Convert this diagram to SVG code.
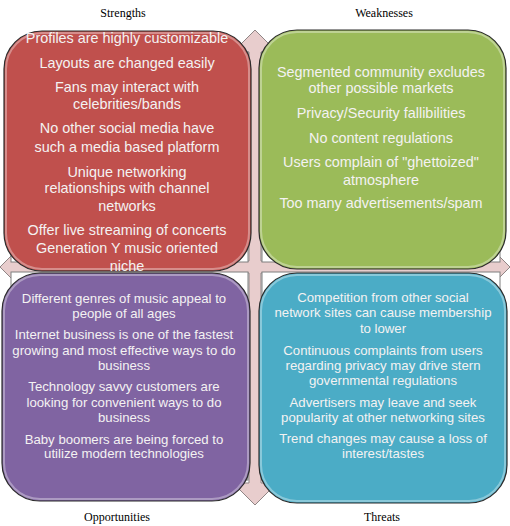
<svg xmlns="http://www.w3.org/2000/svg" width="510" height="526" viewBox="0 0 510 526">
<style>
.lbl{font-family:"Liberation Serif","Times New Roman",serif;font-size:12px;fill:#000;text-anchor:middle}
.t{font-family:"Liberation Sans",Arial,sans-serif;fill:#f4f2f2;text-anchor:middle}
.big{font-size:14.4px}
.sm{font-size:13.2px}
.back{fill:#fff;stroke:#7f7f7f;stroke-width:1}
.box{stroke:#2b2b2b;stroke-width:1.2}
.hl{fill:none;stroke:#fff;stroke-opacity:0.35;stroke-width:2}
</style>
<rect width="510" height="526" fill="#fff"/>
<g id="cross">
<polygon points="255,30 277,52 261,52 261,261 488,261 488,245 510,267 488,289 488,273 261,273 261,483 277,483 255,505 233,483 249,483 249,273 22,273 22,289 0,267 22,245 22,261 249,261 249,52 233,52" fill="#e8cdcd" stroke="#8f8585" stroke-width="1"/>
</g>
<g id="backs">
<rect class="back" x="11" y="52" width="237" height="210"/>
<rect class="back" x="262" y="52" width="238" height="210"/>
<rect class="back" x="11" y="272" width="237" height="208"/>
<rect class="back" x="262" y="272" width="238" height="208"/>
</g>
<g id="strengths">
<rect class="box" x="4" y="31" width="247" height="240" rx="38" fill="#c0504d"/>
<rect class="hl" x="6" y="33" width="243" height="236" rx="36"/>
<text class="t big" x="127" y="43">Profiles are highly customizable</text>
<text class="t big" x="127" y="68">Layouts are changed easily</text>
<text class="t big" x="127" y="92">Fans may interact with</text>
<text class="t big" x="127" y="109">celebrities/bands</text>
<text class="t big" x="127" y="133">No other  social media have</text>
<text class="t big" x="127" y="152">such a media based platform</text>
<text class="t big" x="127" y="177">Unique networking</text>
<text class="t big" x="127" y="193">relationships with channel</text>
<text class="t big" x="127" y="211">networks</text>
<text class="t big" x="127" y="235">Offer live streaming of concerts</text>
<text class="t big" x="127" y="253">Generation  Y music oriented</text>
<text class="t big" x="127" y="271">niche</text>
</g>
<g id="weaknesses">
<rect class="box" x="259" y="30" width="247" height="239" rx="38" fill="#9bbb59"/>
<rect class="hl" x="261" y="32" width="243" height="235" rx="36"/>
<text class="t big" x="381" y="77">Segmented community excludes</text>
<text class="t big" x="381" y="93">other possible markets</text>
<text class="t big" x="381" y="118">Privacy/Security fallibilities</text>
<text class="t big" x="381" y="143">No content regulations</text>
<text class="t big" x="381" y="167">Users complain of "ghettoized"</text>
<text class="t big" x="381" y="185">atmosphere</text>
<text class="t big" x="381" y="208">Too many advertisements/spam</text>
</g>
<g id="opportunities">
<rect class="box" x="2" y="273" width="248" height="228" rx="38" fill="#8064a2"/>
<rect class="hl" x="4" y="275" width="244" height="224" rx="36"/>
<text class="t sm" x="124" y="303">Different genres of music appeal to</text>
<text class="t sm" x="124" y="318">people of all ages</text>
<text class="t sm" x="124" y="339">Internet business  is one of the fastest</text>
<text class="t sm" x="124" y="355">growing and most effective ways to do</text>
<text class="t sm" x="124" y="370">business</text>
<text class="t sm" x="124" y="391">Technology savvy  customers are</text>
<text class="t sm" x="124" y="407">looking  for convenient ways to do</text>
<text class="t sm" x="124" y="422">business</text>
<text class="t sm" x="124" y="444">Baby boomers  are being forced to</text>
<text class="t sm" x="124" y="458">utilize modern technologies</text>
</g>
<g id="threats">
<rect class="box" x="259" y="273" width="248" height="230" rx="38" fill="#4bacc6"/>
<rect class="hl" x="261" y="275" width="244" height="226" rx="36"/>
<text class="t sm" x="383" y="302">Competition  from other social</text>
<text class="t sm" x="383" y="317">network sites can cause membership</text>
<text class="t sm" x="383" y="333">to lower</text>
<text class="t sm" x="383" y="355">Continuous  complaints from users</text>
<text class="t sm" x="383" y="370">regarding privacy may drive stern</text>
<text class="t sm" x="383" y="385">governmental regulations</text>
<text class="t sm" x="383" y="407">Advertisers may leave and seek</text>
<text class="t sm" x="383" y="422">popularity  at other networking sites</text>
<text class="t sm" x="383" y="443">Trend changes may cause a loss  of</text>
<text class="t sm" x="383" y="458">interest/tastes</text>
</g>
<g id="labels">
<text class="lbl" x="123" y="17">Strengths</text>
<text class="lbl" x="384" y="17">Weaknesses</text>
<text class="lbl" x="117" y="521">Opportunities</text>
<text class="lbl" x="382" y="521">Threats</text>
</g>
<g id="connectors"></g>
</svg>
